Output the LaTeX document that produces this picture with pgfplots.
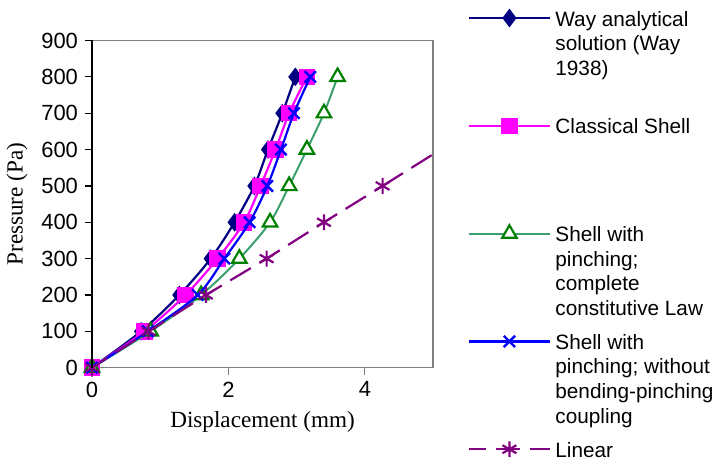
\documentclass[border=0pt]{standalone}
\usepackage{fontspec}
\setmainfont{Liberation Sans}
\newfontfamily\timesfont{Liberation Serif}
\usepackage{pgfplots}
\pgfplotsset{compat=1.18}

\definecolor{wayblue}{RGB}{0,0,128}
\definecolor{shellmag}{RGB}{255,0,255}
\definecolor{pinchline}{RGB}{60,160,110}
\definecolor{pinchmark}{RGB}{0,128,0}
\definecolor{nocoup}{RGB}{0,0,255}
\definecolor{linpurple}{RGB}{128,0,128}
\definecolor{framegray}{RGB}{128,128,128}

% legend text, baseline on the first line
\newcommand\leg[1]{\parbox[t]{80pt}{\raggedright
  \fontsize{10.4}{12.3}\selectfont #1}}

\begin{document}
\begin{tikzpicture}
\begin{axis}[
    scale only axis,
    width=171pt, height=164pt,
    xmin=0, xmax=5, ymin=0, ymax=900,
    xtick={0,2,4},
    ytick={0,100,...,900},
    tick align=outside,
    xtick pos=bottom, ytick pos=left,
    major tick length=3.5pt,
    axis line style={framegray, line width=0.8pt},
    x tick style={framegray, line width=0.6pt},
    y tick style={black, line width=0.6pt},
    /pgf/number format/assume math mode=true,
    tick label style={font=\fontsize{11}{13}\selectfont},
    xlabel={\timesfont Displacement (mm)},
    ylabel={\timesfont Pressure (Pa)},
    label style={font=\fontsize{11.6}{13.5}\selectfont},
    clip mode=individual,
    legend image code/.code={
        \draw[mark repeat=2, mark phase=2, #1]
        plot coordinates {(0pt,4pt) (20.5pt,4pt) (41pt,4pt)};},
    legend style={draw=none, fill=none, at={(1,1)}, anchor=north west,
        xshift=17pt, yshift=17pt, inner sep=0pt, row sep=41pt,
        cells={anchor=base west}},
]
\addplot[wayblue, line width=1.1pt, smooth, mark=diamond*, mark size=3.8pt,
    mark options={solid}] coordinates {
    (0,0) (0.72,100) (1.28,200) (1.74,300) (2.09,400)
    (2.38,500) (2.58,600) (2.79,700) (2.98,800)
};
\addlegendentry{\leg{Way analytical\\solution (Way\\1938)}}

\addplot[shellmag, line width=1.1pt, smooth, mark=square*, mark size=3.6pt,
    mark options={solid}] coordinates {
    (0,0) (0.77,100) (1.37,200) (1.84,300) (2.23,400)
    (2.47,500) (2.69,600) (2.89,700) (3.15,800)
};
\addlegendentry{\leg{Classical Shell}}

\addplot[pinchline, line width=1pt, smooth, mark=triangle*, mark size=4.2pt,
    mark options={solid, draw=pinchmark, fill=white, line width=1.1pt}] coordinates {
    (0,0) (0.86,100) (1.60,200) (2.16,300) (2.61,400)
    (2.89,500) (3.15,600) (3.40,700) (3.60,800)
};
\addlegendentry{\leg{Shell with\\pinching;\\complete\\constitutive Law}}

\addplot[nocoup, line width=1.1pt, smooth, mark=x, mark size=4pt,
    mark options={solid, line width=1.2pt}] coordinates {
    (0,0) (0.82,100) (1.55,200) (1.94,300) (2.31,400)
    (2.57,500) (2.77,600) (2.96,700) (3.20,800)
};
\addlegendentry{\leg{Shell with\\pinching; without\\bending-pinching\\coupling}}

% continuation of the linear curve past the right edge (clipped)
\addplot[linpurple, line width=1.1pt, dash pattern=on 12pt off 5pt,
    forget plot] coordinates {
    (4.26,500) (5.11,600)
};
\addplot[linpurple, line width=1.1pt, dash pattern=on 12pt off 5pt,
    dash phase=3pt, mark=asterisk, mark size=4pt,
    mark options={solid, line width=1.1pt}] coordinates {
    (0,0) (0.83,100) (1.67,200) (2.56,300) (3.40,400) (4.26,500)
};
\addlegendentry{\fontsize{10.4}{12.3}\selectfont Linear}
\end{axis}
\draw[black, line width=0.8pt] (0,0) -- (0,164pt);
\path (current bounding box.north) ++(0,3.5pt);
\end{tikzpicture}
\end{document}
